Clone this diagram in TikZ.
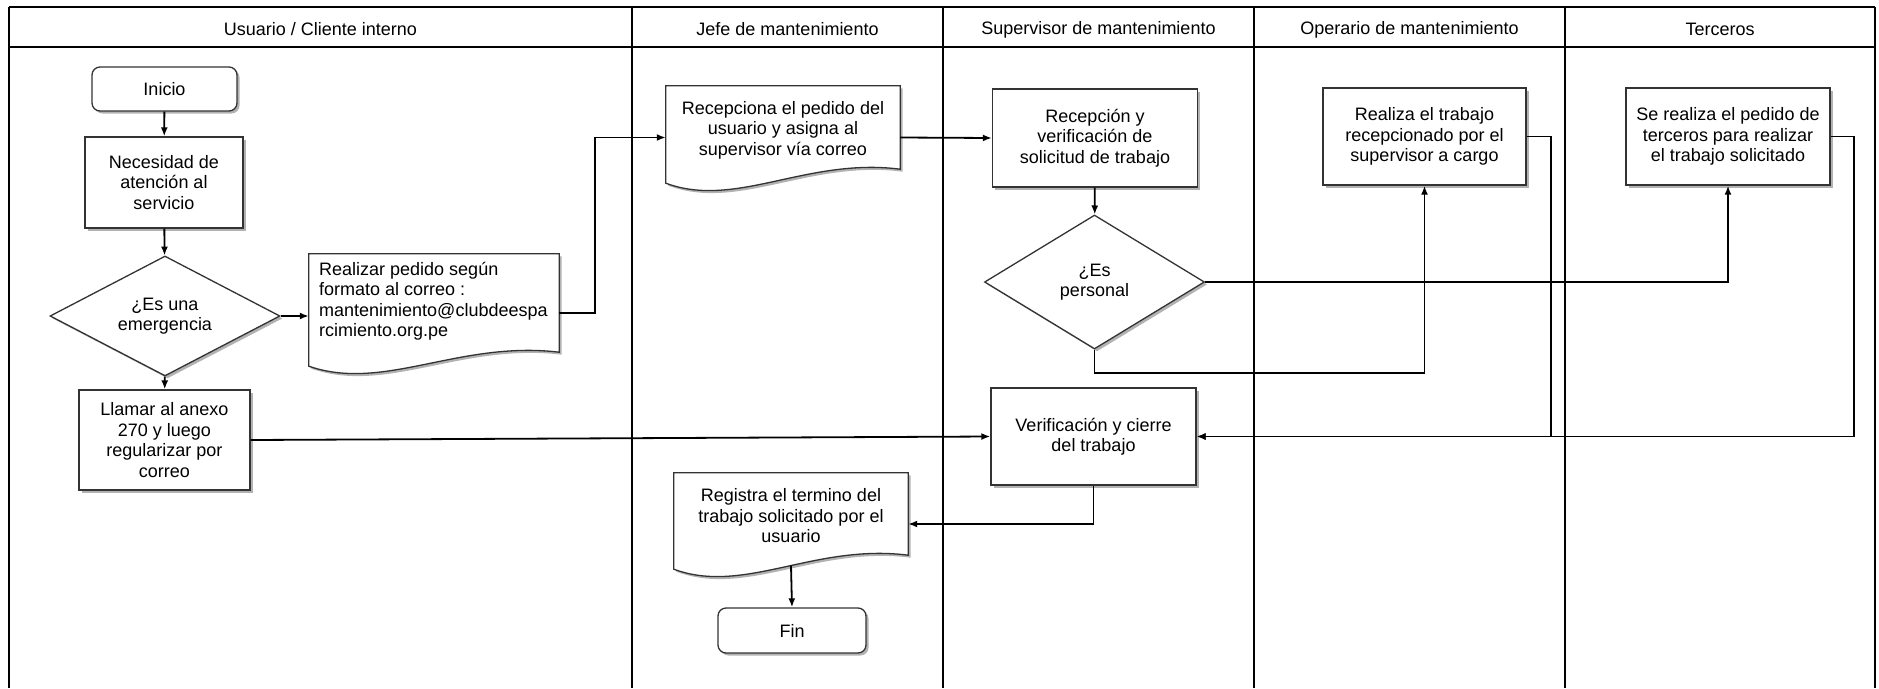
\documentclass[tikz,border=0pt]{standalone}
\usepackage{fontspec}
\setmainfont{Liberation Sans}
\usetikzlibrary{shapes.geometric,shadows,calc,arrows.meta}

% document symbol: flat top, wavy bottom drawn from the node's anchors
\newcommand\docshape[1]{%
  \path[docline] (#1.north west) -- (#1.north east) -- ($(#1.south east)+(0,-20)$)
    .. controls ($(#1.south west)!0.6!(#1.south east)+(0,-32)$)
    and ($(#1.south west)!0.3!(#1.south east)+(0,20)$) .. ($(#1.south west)+(0,-6)$) -- cycle;}

\begin{document}
\begin{tikzpicture}[x=1pt,y=-1pt,
  every node/.style={font=\fontsize{18}{20.5}\selectfont},
  lane/.style={line width=2pt,black},
  boxshadow/.style={drop shadow={shadow xshift=2.5pt,shadow yshift=-2.5pt,opacity=0.3,fill=black}},
  procbox/.style={rectangle,draw=black!80,line width=1.3pt,fill=white,boxshadow,align=center,inner sep=0pt},
  termbox/.style={procbox,rounded corners=8pt},
  decision/.style={diamond,shape aspect=2,draw=black!80,line width=1.3pt,fill=white,boxshadow,align=center,inner sep=0pt},
  docarea/.style={rectangle,inner sep=0pt,draw=none},
  docline/.style={draw=black!80,line width=1.3pt,fill=white,boxshadow},
  doctext/.style={align=center,inner sep=0pt},
  flow/.style={line width=1.8pt,-{Latex[length=9pt,width=7pt]}}
]
\useasboundingbox (0,0) rectangle (1879,688);

% swimlane frame
\draw[lane] (9,7) -- (1875,7);
\draw[lane] (9,47) -- (1875,47);
\foreach \xl in {9,632,943,1254,1565,1875}
  \draw[lane] (\xl,7) -- (\xl,688);

% lane titles
\node (h1) at (320.5,29.5) {Usuario / Cliente interno};
\node (h2) at (787.5,29.5) {Jefe de mantenimiento};
\node (h3) at (1098.5,29.5) {Supervisor de mantenimiento};
\node (h4) at (1409.5,29.5) {Operario de mantenimiento};
\node (h5) at (1720,29.5) {Terceros};

% Usuario / Cliente interno
\node[termbox,minimum width=145pt,minimum height=44pt] (inicio) at (164.5,89) {Inicio};
\node[procbox,minimum width=158pt,minimum height=91pt] (necesidad) at (164,182.5) {Necesidad de\\atención al\\servicio};
\node[decision,minimum width=230pt,minimum height=120pt] (emerg) at (165,316) {¿Es una\\emergencia};
\node[procbox,minimum width=171pt,minimum height=100pt] (llamar) at (164.5,440) {Llamar al anexo\\270 y luego\\regularizar por\\correo};

\node[docarea,minimum width=250pt,minimum height=118pt] (realizar) at (434,313) {};
\docshape{realizar}
\node[align=left,inner sep=0pt,anchor=west] (realizart) at (319,301) {Realizar pedido según\\formato al correo :\\mantenimiento@clubdeespa\\rcimiento.org.pe};

% Jefe de mantenimiento
\node[docarea,minimum width=234pt,minimum height=103pt] (recepciona) at (783,137.5) {};
\docshape{recepciona}
\node[doctext] (recepcionat) at (783,130) {Recepciona el pedido del\\usuario y asigna al\\supervisor vía correo};

\node[docarea,minimum width=234pt,minimum height=102pt] (registra) at (791,524) {};
\docshape{registra}
\node[doctext] (registrat) at (791,516) {Registra el termino del\\trabajo solicitado por el\\usuario};

\node[termbox,minimum width=148pt,minimum height=45pt] (fin) at (792,630.5) {Fin};

% Supervisor de mantenimiento
\node[procbox,minimum width=205pt,minimum height=98pt] (recepcion) at (1095,138) {Recepción y\\verificación de\\solicitud de trabajo};
\node[decision,minimum width=220pt,minimum height=134pt] (personal) at (1094.5,282) {¿Es\\personal};
\node[procbox,minimum width=205pt,minimum height=97pt] (verif) at (1093.5,436.5) {Verificación y cierre\\del trabajo};

% Operario de mantenimiento
\node[procbox,minimum width=203pt,minimum height=97pt] (realiza) at (1424.5,136.5) {Realiza el trabajo\\recepcionado por el\\supervisor a cargo};

% Terceros
\node[procbox,minimum width=204pt,minimum height=97pt] (terceros) at (1728,136.5) {Se realiza el pedido de\\terceros para realizar\\el trabajo solicitado};

% connectors
\draw[flow] (inicio) -- (necesidad);
\draw[flow] (necesidad) -- (emerg);
\draw[flow] (emerg) -- (llamar);
\draw[flow] (emerg.east) -- (emerg.east -| realizar.west);
\draw[flow] (realizar.east) -- ++(36,0) |- (recepciona.west);
\draw[flow] (recepciona.east) -- (recepcion.west);
\draw[flow] (recepcion) -- (personal);
\draw[flow] (personal.south) -- ++(0,23) -| (realiza.south);
\draw[flow] (personal.east) -| (terceros.south);
\draw[flow] (realiza.east) -- ++(24,0) |- (verif.east);
\draw[flow] (terceros.east) -- ++(23,0) |- (verif.east);
\draw[flow] (llamar.east) -- (verif.west);
\draw[flow] (verif.south) |- (registra.east);
\draw[flow] ([yshift=9.5pt]registra.south) -- (fin.north);

\end{tikzpicture}
\end{document}
